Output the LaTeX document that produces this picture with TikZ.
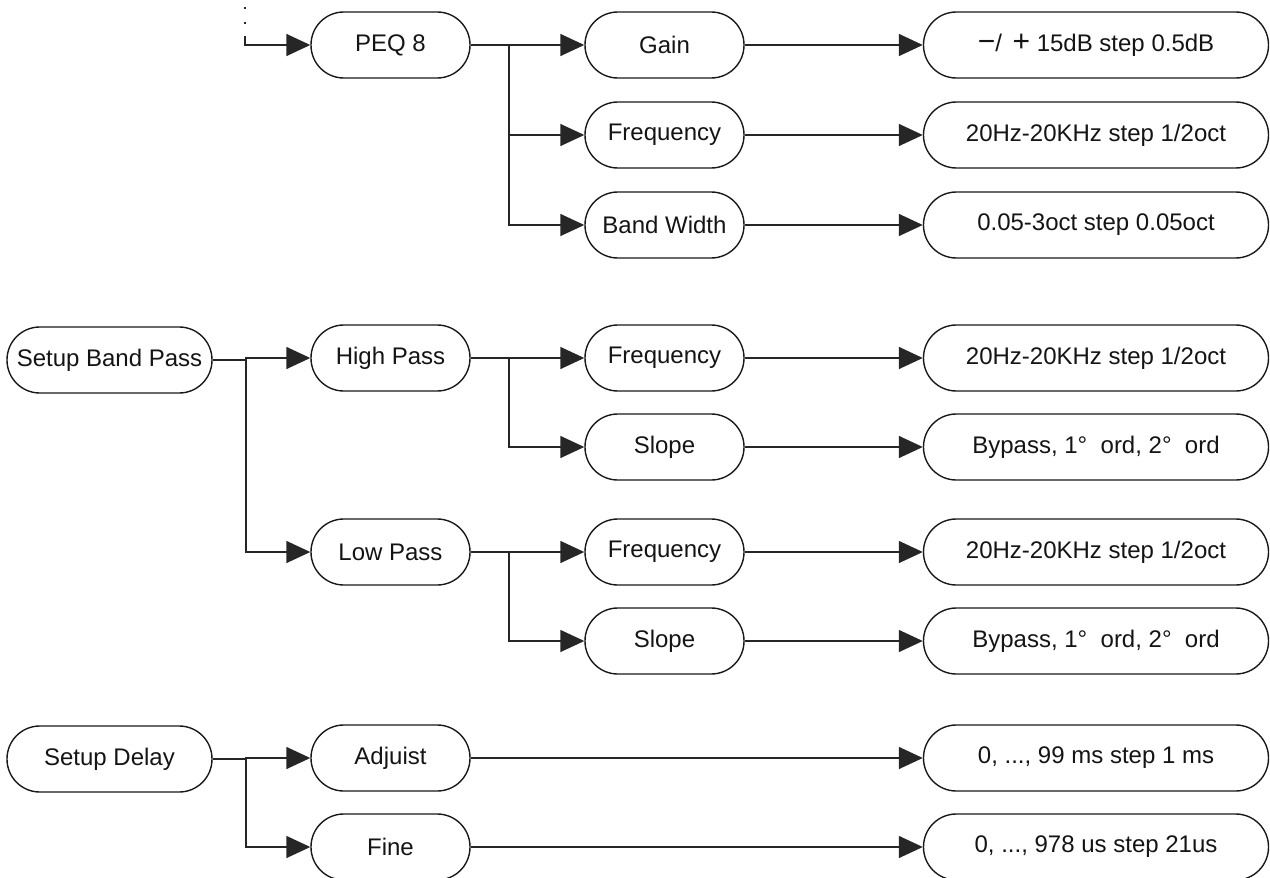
\documentclass[tikz,border=0pt]{standalone}
\usepackage{fontspec}
\setmainfont{Liberation Sans}
\usetikzlibrary{arrows.meta}
\begin{document}
\begin{tikzpicture}[x=0.5pt,y=-0.5pt,
  box/.style={draw=black!90, line width=0.7pt, rounded corners=16.4pt, minimum height=33pt, inner sep=0pt,
    font=\fontsize{12}{14}\selectfont, text=black!92},
  c0/.style={box, minimum width=102.5pt},
  c1/.style={box, minimum width=79.5pt},
  c3/.style={box, minimum width=172.5pt},
  conn/.style={draw=black!85, line width=0.75pt},
  arr/.style={conn, -{Triangle[length=12pt,width=11pt]}}]
\useasboundingbox (0,0) rectangle (1270,878);
% column 0
\node[c0] (sbp) at (109.5,360) {Setup Band Pass};
\node[c0] (sd) at (109.5,759) {Setup Delay};
% column 1
\node[c1] (peq) at (390.5,45) {PEQ 8};
\node[c1] (hp) at (390.5,358) {High Pass};
\node[c1] (lp) at (390.5,552) {Low Pass};
\node[c1] (adj) at (390.5,758) {Adjuist};
\node[c1] (fine) at (390.5,847) {Fine};
% column 2
\node[c1] (gain) at (664.5,45) {Gain};
\node[c1] (f1) at (664.5,135) {Frequency};
\node[c1] (bw) at (664.5,225) {Band Width};
\node[c1] (f2) at (664.5,358) {Frequency};
\node[c1] (s2) at (664.5,447) {Slope};
\node[c1] (f3) at (664.5,552) {Frequency};
\node[c1] (s3) at (664.5,641) {Slope};
% column 3
\node[c3] (vgain) at (1096,45) {{\fontsize{15}{14}\selectfont −}/\ \,{\fontsize{15}{14}\selectfont +}\ 15dB step 0.5dB};
\node[c3] (vf1) at (1096,135) {20Hz-20KHz step 1/2oct};
\node[c3] (vbw) at (1096,225) {0.05-3oct step 0.05oct};
\node[c3] (vf2) at (1096,358) {20Hz-20KHz step 1/2oct};
\node[c3] (vs2) at (1096,447) {Bypass, 1°\ \ ord, 2°\ \ ord};
\node[c3] (vf3) at (1096,552) {20Hz-20KHz step 1/2oct};
\node[c3] (vs3) at (1096,641) {Bypass, 1°\ \ ord, 2°\ \ ord};
\node[c3] (vadj) at (1096,758) {0, ..., 99 ms step 1 ms};
\node[c3] (vfine) at (1096,847) {0, ..., 978 us step 21us};
% junction coordinates
\coordinate (top) at (245,36);
\coordinate (j0) at (509,45);
\coordinate (j1) at (509,358);
\coordinate (j2) at (509,552);
\coordinate (jb) at (246,360);
\coordinate (jd) at (246,759);
% dotted lead-in
\draw[conn, dash pattern=on 1.2pt off 6.3pt] (245,7) -- (top);
\draw[arr] (top) |- (peq.west);
% PEQ branches
\draw[conn] (peq.east) -- (j0);
\draw[arr] (j0) -- (gain.west);
\draw[arr] (j0) |- (f1.west);
\draw[arr] (j0) |- (bw.west);
% Band pass
\draw[conn] (sbp.east) -- (jb);
\draw[arr] (jb) |- (hp.west);
\draw[arr] (jb) |- (lp.west);
\draw[conn] (hp.east) -- (j1);
\draw[arr] (j1) -- (f2.west);
\draw[arr] (j1) |- (s2.west);
\draw[conn] (lp.east) -- (j2);
\draw[arr] (j2) -- (f3.west);
\draw[arr] (j2) |- (s3.west);
% Delay
\draw[conn] (sd.east) -- (jd);
\draw[arr] (jd) |- (adj.west);
\draw[arr] (jd) |- (fine.west);
% values
\draw[arr] (gain.east) -- (vgain.west);
\draw[arr] (f1.east) -- (vf1.west);
\draw[arr] (bw.east) -- (vbw.west);
\draw[arr] (f2.east) -- (vf2.west);
\draw[arr] (s2.east) -- (vs2.west);
\draw[arr] (f3.east) -- (vf3.west);
\draw[arr] (s3.east) -- (vs3.west);
\draw[arr] (adj.east) -- (vadj.west);
\draw[arr] (fine.east) -- (vfine.west);
\end{tikzpicture}
\end{document}
